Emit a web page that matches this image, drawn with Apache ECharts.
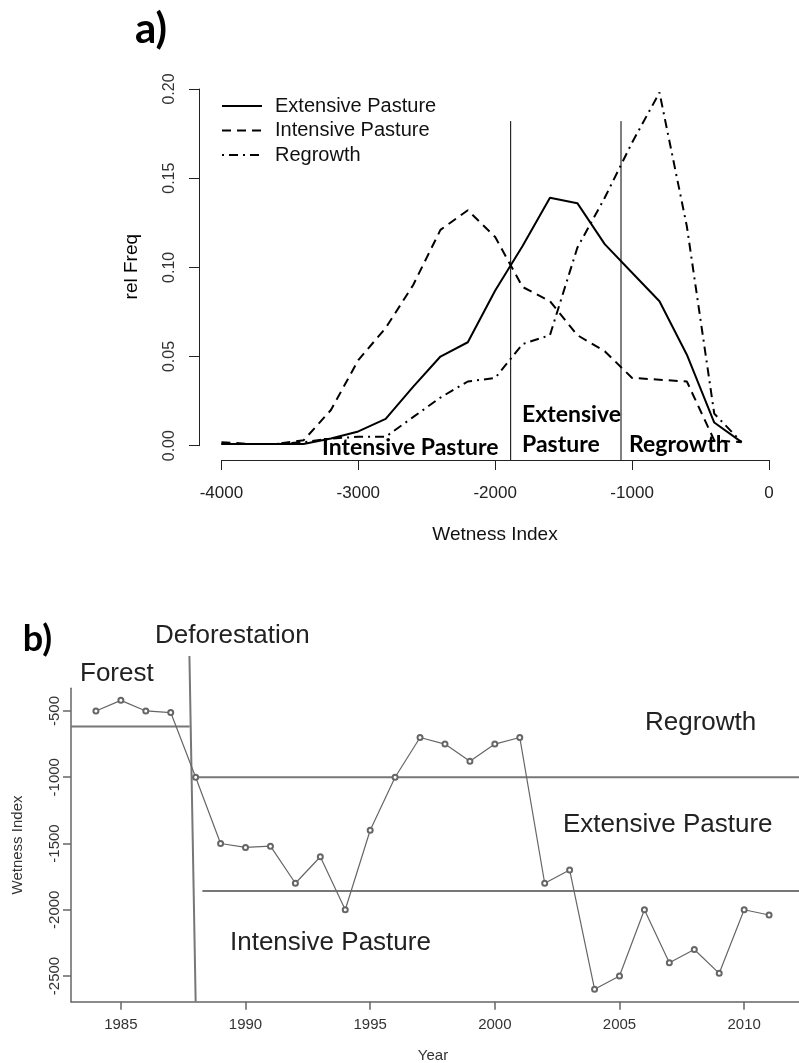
<!DOCTYPE html>
<html><head><meta charset="utf-8">
<script src="https://cdn.jsdelivr.net/npm/echarts@6/dist/echarts.min.js"></script>
<style>html,body{margin:0;padding:0;background:#fff}#c{width:799px;height:1063px}</style>
</head><body><div id="c"></div>
<script>
// ---------- Panel a: relative frequency vs wetness index ----------
const wetnessBins = [-4000,-3800,-3600,-3400,-3200,-3000,-2800,-2600,-2400,-2200,-2000,-1800,-1600,-1400,-1200,-1000,-800,-600,-400,-200];
const extensivePasture = [0.001,0.001,0.001,0.001,0.004,0.008,0.015,0.033,0.050,0.058,0.087,0.112,0.139,0.136,0.113,0.097,0.081,0.051,0.013,0.002];
const intensivePasture = [0.002,0.001,0.001,0.003,0.020,0.048,0.066,0.090,0.121,0.132,0.117,0.089,0.081,0.062,0.053,0.038,0.037,0.036,0.003,0.002];
const regrowth        = [0.001,0.001,0.001,0.002,0.004,0.005,0.005,0.016,0.027,0.036,0.038,0.057,0.062,0.111,0.139,0.170,0.198,0.123,0.018,0.002];
const classBoundaries = [-1887, -1081];
const boundaryExtent = [-0.008, 0.182];
const seriesNamesA = ['Extensive Pasture','Intensive Pasture','Regrowth'];

// ---------- Panel b: wetness index time series ----------
const years = [1984,1985,1986,1987,1988,1989,1990,1991,1992,1993,1994,1995,1996,1997,1998,1999,2000,2001,2002,2003,2004,2005,2006,2007,2008,2009,2010,2011];
const wetnessIndex = [-500,-420,-500,-512,-1000,-1500,-1530,-1520,-1800,-1600,-2000,-1400,-1000,-700,-750,-880,-750,-700,-1800,-1700,-2600,-2500,-2000,-2400,-2300,-2480,-2000,-2040];
const forestLine = {y: -618, x: [1983, 1987.76]};
const deforestationLine = {x: [1987.75, 1988.0], y: [-85, -2694]};
const regrowthLine = {y: -1000, x: [1987.9, 2012.2]};
const intensiveLine = {y: -1858, x: [1988.27, 2012.2]};
const xTicksB = [1985,1990,1995,2000,2005,2010];
const yTicksB = [-2500,-2000,-1500,-1000,-500];

const chart = echarts.init(document.getElementById('c'), null, {renderer:'canvas'});
const ARIAL = 'Liberation Sans';
const pairs = (xs, ys) => xs.map((x,i)=>[x, ys[i]]);

const lineA = (name, data, type) => ({
  name, type:'line', xAxisIndex:0, yAxisIndex:0, data: pairs(wetnessBins, data),
  symbol:'none', z:3,
  lineStyle:{color:'#000', width:2, type}, itemStyle:{color:'#000'}
});

const boundarySeries = classBoundaries.map(b => ({
  type:'line', xAxisIndex:0, yAxisIndex:0, clip:false, silent:true, symbol:'none',
  data:[[b, boundaryExtent[0]],[b, boundaryExtent[1]]],
  lineStyle:{color:'#000', width:1}
}));

const refB = (xs, ys) => ({
  type:'line', xAxisIndex:1, yAxisIndex:1, clip:false, silent:true, symbol:'none',
  data: pairs(xs, ys), lineStyle:{color:'#777', width:2}, z:1
});

const plain = v => String(v);

const option = {
  animation:false,
  backgroundColor:'#fff',
  textStyle:{fontFamily:ARIAL},
  grid:[
    {left:221.4, top:89, width:547.6, height:356.7},
    {left:71, top:688.3, width:729, height:313.4}
  ],
  legend:{
    data: seriesNamesA, orient:'vertical', left:216, top:91,
    itemWidth:40, itemHeight:14, itemGap:4.5,
    itemStyle:{opacity:0},
    textStyle:{fontFamily:ARIAL, fontSize:20, color:'#111', padding:[0,0,0,8]}
  },
  xAxis:[
    {gridIndex:0, type:'value', min:-4000, max:0, interval:1000, offset:14.3,
     axisLine:{show:true, onZero:false, lineStyle:{color:'#222', width:1}},
     axisTick:{show:true, length:10, lineStyle:{color:'#222'}},
     axisLabel:{fontSize:17, color:'#222', margin:24.5, fontFamily:ARIAL, formatter:plain},
     splitLine:{show:false}},
    {gridIndex:1, type:'value', min:1983, max:2012.2, offset:0,
     axisLine:{show:true, onZero:false, lineStyle:{color:'#666', width:1.5}},
     axisTick:{show:true, length:8, lineStyle:{color:'#666', width:1.5}, customValues:xTicksB},
     axisLabel:{fontSize:15, color:'#333', margin:16, fontFamily:ARIAL, customValues:xTicksB, formatter:plain},
     splitLine:{show:false}}
  ],
  yAxis:[
    {gridIndex:0, type:'value', min:0, max:0.2, interval:0.05, offset:22.4,
     axisLine:{show:true, onZero:false, lineStyle:{color:'#222', width:1}},
     axisTick:{show:true, length:10, lineStyle:{color:'#222'}},
     axisLabel:{fontSize:16, color:'#333', rotate:90, margin:21, fontFamily:ARIAL,
       formatter:v=>v.toFixed(2)},
     splitLine:{show:false}},
    {gridIndex:1, type:'value', min:-2694, max:-329,
     axisLine:{show:true, onZero:false, lineStyle:{color:'#666', width:1.5}},
     axisTick:{show:true, length:8, lineStyle:{color:'#666', width:1.5}, customValues:yTicksB},
     axisLabel:{fontSize:15, color:'#333', rotate:90, margin:9, fontFamily:ARIAL, customValues:yTicksB, formatter:plain},
     splitLine:{show:false}}
  ],
  series:[
    lineA(seriesNamesA[0], extensivePasture, 'solid'),
    lineA(seriesNamesA[1], intensivePasture, [9,6]),
    lineA(seriesNamesA[2], regrowth, [2,5,9,5]),
    ...boundarySeries,
    refB(forestLine.x, [forestLine.y, forestLine.y]),
    refB(deforestationLine.x, deforestationLine.y),
    refB(regrowthLine.x, [regrowthLine.y, regrowthLine.y]),
    refB(intensiveLine.x, [intensiveLine.y, intensiveLine.y]),
    {type:'line', xAxisIndex:1, yAxisIndex:1, data:pairs(years, wetnessIndex),
     symbol:'emptyCircle', symbolSize:5, z:3,
     lineStyle:{color:'#666', width:1.2}, itemStyle:{color:'#666', borderWidth:1.2}}
  ],
  graphic:[
    {type:'text', x:151, y:29, style:{text:'a)', font:'bold 42px Lato', fill:'#000', align:'center', verticalAlign:'middle'}},
    {type:'text', x:131.7, y:266.7, rotation:Math.PI/2, style:{text:'rel Freq', font:'19px "Liberation Sans"', fill:'#000', align:'center', verticalAlign:'middle'}},
    {type:'text', x:495, y:535, style:{text:'Wetness Index', font:'19px "Liberation Sans"', fill:'#111', align:'center', verticalAlign:'middle'}},
    {type:'text', x:322, y:448, style:{text:'Intensive Pasture', font:'bold 23px Lato', fill:'#000', align:'left', verticalAlign:'middle'}},
    {type:'text', x:522, y:415, style:{text:'Extensive', font:'bold 23px Lato', fill:'#000', align:'left', verticalAlign:'middle'}},
    {type:'text', x:522, y:445, style:{text:'Pasture', font:'bold 23px Lato', fill:'#000', align:'left', verticalAlign:'middle'}},
    {type:'text', x:629, y:445, style:{text:'Regrowth', font:'bold 23px Lato', fill:'#000', align:'left', verticalAlign:'middle'}},

    {type:'text', x:37.5, y:639, style:{text:'b)', font:'bold 36px Lato', fill:'#000', align:'center', verticalAlign:'middle'}},
    {type:'text', x:155, y:636, style:{text:'Deforestation', font:'26px "Liberation Sans"', fill:'#222', align:'left', verticalAlign:'middle'}},
    {type:'text', x:80, y:674, style:{text:'Forest', font:'26px "Liberation Sans"', fill:'#222', align:'left', verticalAlign:'middle'}},
    {type:'text', x:645, y:723, style:{text:'Regrowth', font:'26px "Liberation Sans"', fill:'#222', align:'left', verticalAlign:'middle'}},
    {type:'text', x:563, y:825, style:{text:'Extensive Pasture', font:'26px "Liberation Sans"', fill:'#222', align:'left', verticalAlign:'middle'}},
    {type:'text', x:230, y:943, style:{text:'Intensive Pasture', font:'26px "Liberation Sans"', fill:'#222', align:'left', verticalAlign:'middle'}},
    {type:'text', x:18.3, y:845, rotation:Math.PI/2, style:{text:'Wetness Index', font:'15px "Liberation Sans"', fill:'#333', align:'center', verticalAlign:'middle'}},
    {type:'text', x:433, y:1056, style:{text:'Year', font:'15px "Liberation Sans"', fill:'#333', align:'center', verticalAlign:'middle'}}
  ]
};
chart.setOption(option);
</script>
</body></html>
